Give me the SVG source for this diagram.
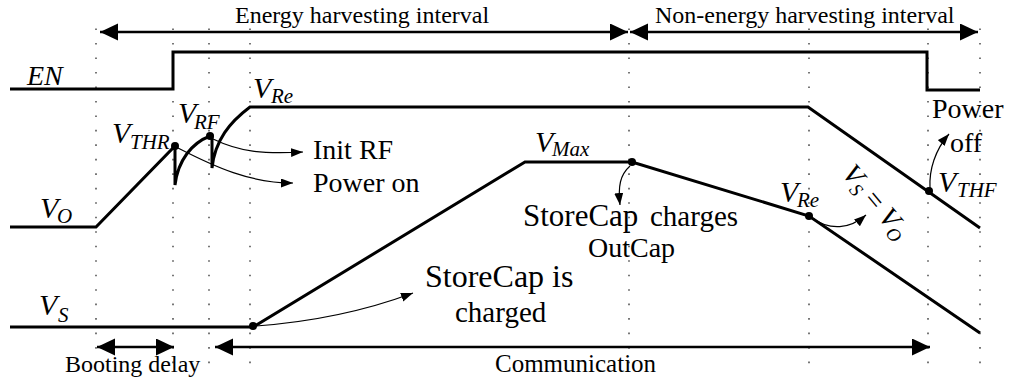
<svg xmlns="http://www.w3.org/2000/svg" width="1009" height="384" viewBox="0 0 1009 384">
<style>
.it{font-style:italic}
.grid{stroke:#555;stroke-width:1.6;stroke-dasharray:1.6 12.88;fill:none}
.sig{stroke:#000;stroke-width:3;fill:none;stroke-linejoin:miter}
.thin{stroke:#000;stroke-width:1.2;fill:none;marker-end:url(#ah)}
.big{stroke:#000;stroke-width:2.6;fill:none;marker-start:url(#bh);marker-end:url(#bh)}
</style>
<defs>
<marker id="ah" markerUnits="userSpaceOnUse" markerWidth="13" markerHeight="10" refX="12" refY="4.5" orient="auto"><path d="M0,0 L12,4.5 L0,9 z" fill="#000"/></marker>
<marker id="bh" markerUnits="userSpaceOnUse" markerWidth="19" markerHeight="18" refX="18" refY="8.5" orient="auto-start-reverse"><path d="M0,0 L18,8.5 L0,17 z" fill="#000"/></marker>
</defs>
<rect width="1009" height="384" fill="#fff"/>
<g id="grid">
<line class="grid" x1="96" y1="28.5" x2="96" y2="364"/>
<line class="grid" x1="173" y1="28.5" x2="173" y2="364"/>
<line class="grid" x1="209" y1="28.5" x2="209" y2="364"/>
<line class="grid" x1="250" y1="28.5" x2="250" y2="364"/>
<line class="grid" x1="629" y1="28.5" x2="629" y2="364"/>
<line class="grid" x1="809" y1="28.5" x2="809" y2="364"/>
<line class="grid" x1="928" y1="28.5" x2="928" y2="364"/>
<line class="grid" x1="980" y1="28.5" x2="980" y2="364"/>
</g>
<g id="signals">
<path class="sig" d="M10,89 H173 V52 H927 V90 H980"/>
<path class="sig" d="M10,227 H96 L175,146 V185 C178,160 192,143 210,136 L212,136 V168 C215,140 230,122 250,107 H808 L980,228"/>
<path class="sig" d="M10,327 H253 L525,162 H632 L809,216 L980,333"/>
</g>
<g id="dots" fill="#000">
<circle cx="175" cy="146" r="4"/>
<circle cx="210" cy="136" r="4"/>
<circle cx="632" cy="162" r="4"/>
<circle cx="809" cy="216" r="4"/>
<circle cx="929" cy="191" r="4"/>
<circle cx="253" cy="326" r="4"/>
</g>
<g id="connectors">
<line class="big" x1="100" y1="32" x2="628" y2="32"/>
<line class="big" x1="630" y1="32" x2="978" y2="32"/>
<line class="big" x1="97" y1="347" x2="174" y2="347"/>
<line class="big" x1="215" y1="347" x2="930" y2="347"/>
<path class="thin" d="M213,139 C240,152 262,154 303,152"/>
<path class="thin" d="M178,148 C215,167 250,183 293,183"/>
<path class="thin" d="M630,166 C620,175 618,186 620,205"/>
<path class="thin" d="M256,326 C310,322 362,312 413,293"/>
<path class="thin" d="M812,218 C830,231 850,229 866,215"/>
<path class="thin" d="M930,188 C929,170 935,150 949,134"/>
</g>
<g id="labels" font-family="'Liberation Serif', 'DejaVu Serif', serif" fill="#000">
<text x="235" y="23" font-size="24">Energy harvesting interval</text>
<text x="655" y="23" font-size="24">Non-energy harvesting interval</text>
<text x="65" y="372" font-size="24">Booting delay</text>
<text x="495" y="372" font-size="25">Communication</text>
<text x="425" y="287" font-size="32">StoreCap is</text>
<text x="455" y="322" font-size="29">charged</text>
<text y="226"><tspan x="523" font-size="31">StoreCap</tspan><tspan x="650" font-size="29">charges</tspan></text>
<text x="588" y="257" font-size="28">OutCap</text>
<text x="313" y="159" font-size="28">Init RF</text>
<text x="313" y="192" font-size="28">Power on</text>
<text x="932" y="118" font-size="28">Power</text>
<text x="950" y="152" font-size="28">off</text>
<text class="it" x="27" y="85" font-size="28">EN</text>
<text class="it"><tspan x="40" y="218" font-size="30">V</tspan><tspan x="57" y="223" font-size="21">O</tspan></text>
<text class="it"><tspan x="39" y="315" font-size="30">V</tspan><tspan x="58" y="322" font-size="21">S</tspan></text>
<text class="it"><tspan x="112" y="143" font-size="30">V</tspan><tspan x="130" y="149" font-size="21">THR</tspan></text>
<text class="it"><tspan x="178" y="123" font-size="30">V</tspan><tspan x="194" y="129" font-size="21">RF</tspan></text>
<text class="it"><tspan x="253" y="98" font-size="30">V</tspan><tspan x="271" y="103" font-size="21">Re</tspan></text>
<text class="it"><tspan x="535" y="152" font-size="30">V</tspan><tspan x="552" y="156" font-size="21">Max</tspan></text>
<text class="it"><tspan x="780" y="202" font-size="30">V</tspan><tspan x="797" y="207" font-size="21">Re</tspan></text>
<text class="it"><tspan x="938" y="192" font-size="30">V</tspan><tspan x="957" y="197" font-size="21">THF</tspan></text>
<text class="it" transform="rotate(50 841 174)" x="841" y="174" font-size="28">V<tspan font-size="19" dy="5">S</tspan><tspan dy="-5" font-style="normal"> = </tspan>V<tspan font-size="19" dy="5">O</tspan></text>
</g>
</svg>
